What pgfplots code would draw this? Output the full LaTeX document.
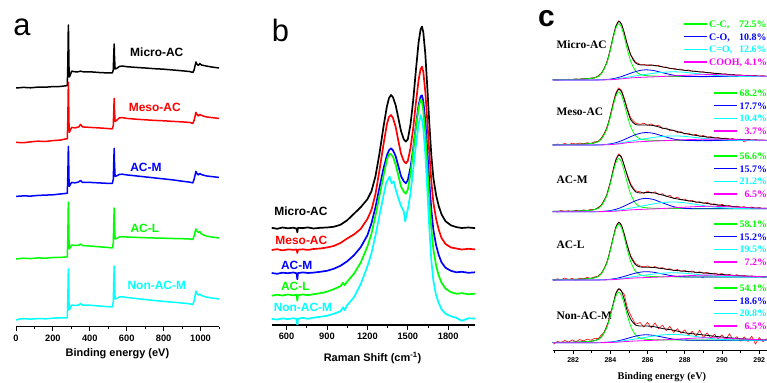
\documentclass[border=0pt]{standalone}
\usepackage{pgfplots}
\usepackage{pgfplotstable}
\pgfplotsset{compat=1.18}
\usepackage{fontspec}
\setmainfont{Liberation Serif}
\setsansfont{Liberation Sans}
\definecolor{cR}{RGB}{255,0,0}
\definecolor{cB}{RGB}{0,0,255}
\definecolor{cG}{RGB}{0,255,0}
\definecolor{cC}{RGB}{0,255,255}
\definecolor{cM}{RGB}{255,0,255}

% ---------- panel c: fitted components (heights above each sub-plot baseline) ----------
\pgfplotstableread{
x cc co cdo cooh env
280.9 0.29 0 0 0 0.29
281.5 0.42 0 0 0 0.42
282.2 0.71 0 0.01 0 0.72
282.8 1.29 0.01 0.02 0 1.32
283.2 2.46 0.09 0.09 0.04 2.56
283.5 5.84 0.21 0.17 0.07 6.08
283.8 16.59 0.53 0.36 0.18 17.12
284.0 29.96 0.93 0.58 0.32 30.83
284.15 41.82 1.36 0.80 0.46 43.06
284.3 52.02 1.90 1.07 0.64 53.74
284.45 56.38 2.63 1.43 0.89 58.69
284.6 52.55 3.49 1.85 1.17 55.59
284.75 42.80 4.44 2.30 1.45 46.68
284.9 31.36 5.47 2.77 1.74 36.19
285.1 18.44 6.85 3.38 2.07 24.63
285.35 9.17 8.39 4.10 2.37 17.10
285.6 5.61 9.57 4.81 2.61 15.04
285.9 4.38 10.20 5.64 2.84 14.97
286.3 3.90 9.58 6.69 3.13 14.69
286.8 3.70 7.33 7.72 3.53 13.15
287.4 3.61 4.77 8.18 4.07 11.06
288.0 3.58 3.64 7.67 4.65 9.67
288.8 3.55 3.38 6.08 5.25 8.18
289.6 3.57 3.43 4.63 5.39 6.73
290.5 3.57 3.47 3.78 4.91 5.32
291.4 3.58 3.50 3.55 4.24 4.37
292.4 3.56 3.50 3.50 3.73 3.79
}\tMicro
\pgfplotstableread{
x cc co cdo cooh env
280.9 0.28 0 0 0 0.28
281.5 0.40 0 0 0 0.40
282.2 0.67 0 0 0 0.67
282.8 1.21 0.01 0.02 0 1.24
283.2 2.32 0.11 0.10 0.05 2.43
283.5 5.50 0.26 0.19 0.09 5.77
283.8 15.60 0.65 0.41 0.23 16.20
284.0 28.18 1.15 0.67 0.41 29.18
284.15 39.35 1.67 0.93 0.59 40.77
284.3 48.96 2.34 1.25 0.82 50.94
284.45 53.13 3.23 1.68 1.14 55.79
284.6 49.64 4.28 2.19 1.50 53.14
284.75 40.61 5.45 2.71 1.86 45.08
284.9 29.98 6.71 3.26 2.23 35.55
285.1 17.98 8.39 3.96 2.64 25.14
285.35 9.40 10.27 4.76 3.01 20.50
285.6 6.14 11.70 5.53 3.31 20.00
285.9 5.04 12.47 6.41 3.58 20.00
286.3 4.66 11.75 7.51 3.89 19.50
286.8 4.53 9.05 8.60 4.28 17.00
287.4 4.50 5.99 9.09 4.76 14.50
288.0 4.51 4.65 8.61 5.25 11.50
288.8 4.50 4.35 7.04 5.74 9.00
289.6 4.54 4.41 5.61 5.88 7.20
290.5 4.55 4.46 4.77 5.54 5.94
291.4 4.57 4.50 4.55 5.05 5.17
292.4 4.56 4.50 4.50 4.67 4.73
}\tMeso
\pgfplotstableread{
x cc co cdo cooh env
280.9 0.28 0 0 0 0.28
281.5 0.40 0 0 0 0.40
282.2 0.67 0 0.01 0 0.68
282.8 1.22 0.01 0.03 0 1.26
283.2 2.32 0.10 0.10 0.03 2.46
283.5 5.52 0.26 0.20 0.06 5.86
283.8 15.67 0.67 0.40 0.15 16.44
284.0 28.31 1.17 0.64 0.27 29.58
284.15 39.52 1.71 0.87 0.40 41.33
284.3 49.16 2.41 1.15 0.55 51.65
284.45 53.25 3.31 1.53 0.76 56.60
284.6 49.61 4.40 1.96 1.01 54.01
284.75 40.36 5.63 2.43 1.25 45.98
284.9 29.51 6.97 2.94 1.50 36.51
285.1 17.26 8.80 3.63 1.79 26.26
285.35 8.47 10.90 4.48 2.05 19.96
285.6 5.08 12.50 5.36 2.27 18.73
285.9 3.90 13.31 6.43 2.49 19.20
286.3 3.44 12.31 7.80 2.79 18.96
286.8 3.23 8.88 9.16 3.22 16.66
287.4 3.13 5.04 9.71 3.83 13.52
288.0 3.10 3.34 8.95 4.53 11.46
288.8 3.06 2.91 6.69 5.24 9.26
289.6 3.07 2.94 4.61 5.39 7.19
290.5 3.06 2.97 3.41 4.78 5.31
291.4 3.07 3.00 3.07 3.92 4.06
292.4 3.06 3.00 3.01 3.29 3.36
}\tACM
\pgfplotstableread{
x cc co cdo cooh env
280.9 0.29 0 0 0 0.29
281.5 0.42 0 0 0 0.42
282.2 0.70 0 0 0 0.70
282.8 1.28 0.01 0.02 0 1.31
283.2 2.43 0.07 0.08 0.03 2.52
283.5 5.78 0.17 0.15 0.06 5.98
283.8 16.41 0.43 0.31 0.15 16.85
284.0 29.64 0.76 0.51 0.27 30.37
284.15 41.38 1.11 0.70 0.39 42.41
284.3 51.47 1.56 0.93 0.55 52.89
284.45 55.75 2.15 1.25 0.76 57.66
284.6 51.92 2.85 1.62 1.00 54.42
284.75 42.22 3.63 2.00 1.25 45.41
284.9 30.84 4.47 2.42 1.50 34.82
285.1 18.00 5.59 2.95 1.78 23.10
285.35 8.78 6.85 3.59 2.04 15.32
285.6 5.22 7.80 4.22 2.25 13.01
285.9 3.97 8.31 4.96 2.46 12.77
286.3 3.48 7.83 5.89 2.72 12.54
286.8 3.26 6.03 6.82 3.10 11.38
287.4 3.15 3.99 7.22 3.61 9.78
288.0 3.11 3.10 6.76 4.18 8.69
288.8 3.07 2.90 5.33 4.77 7.43
289.6 3.08 2.94 4.02 4.90 6.12
290.5 3.07 2.97 3.25 4.41 4.79
291.4 3.08 3.00 3.05 3.74 3.87
292.4 3.06 3.00 3.00 3.23 3.29
}\tACL
\pgfplotstableread{
x cc co cdo cooh env
280.9 0.27 0 0 0 0.27
281.5 0.38 0 0 0 0.38
282.2 0.64 0 0.01 0 0.65
282.8 1.16 0.01 0.03 0 1.20
283.2 2.20 0.07 0.09 0.03 2.30
283.5 5.25 0.16 0.17 0.05 5.48
283.8 14.90 0.41 0.35 0.13 15.41
284.0 26.93 0.72 0.54 0.23 27.73
284.15 37.60 1.05 0.74 0.34 38.74
284.3 46.75 1.47 0.97 0.46 49.50
284.45 50.63 2.03 1.29 0.64 54.00
284.6 47.13 2.69 1.66 0.85 51.50
284.75 38.30 3.43 2.06 1.05 43.00
284.9 27.93 4.23 2.49 1.26 32.23
285.1 16.23 5.30 3.07 1.50 23.20
285.35 7.83 6.52 3.79 1.72 17.70
285.6 4.59 7.44 4.54 1.91 16.70
285.9 3.44 7.93 5.46 2.11 16.70
286.3 2.98 7.42 6.63 2.38 16.20
286.8 2.77 5.60 7.79 2.79 14.20
287.4 2.66 3.54 8.25 3.38 12.50
288.0 2.62 2.63 7.61 4.06 9.87
288.8 2.58 2.42 5.66 4.76 8.22
289.6 2.58 2.45 3.88 4.90 6.46
290.5 2.57 2.48 2.86 4.29 4.76
291.4 2.57 2.50 2.56 3.42 3.55
292.4 2.56 2.50 2.51 2.79 2.86
}\tNon
% ---------- panel c: measured spectra ----------
\pgfplotstableread{
x mi me am al no
280.95 0.6 -0.5 0.8 -1.0 -1.5
281.15 -0.2 1.0 -0.3 1.3 1.2
281.35 0.7 0.2 1.2 0.2 0.0
281.55 0.1 1.5 0.3 2.0 2.3
281.75 0.9 0.4 1.0 0.5 0.6
281.95 0.3 1.8 -0.1 1.6 2.8
282.15 1.2 0.9 1.3 -0.3 1.0
282.35 0.5 2.0 0.6 1.9 3.2
282.55 1.4 1.1 1.8 1.0 1.8
282.75 0.9 2.3 1.0 2.6 3.6
282.95 2.1 1.5 2.4 1.6 2.5
283.15 2.0 3.2 1.9 3.1 4.4
283.35 4.3 3.6 4.5 4.0 4.1
283.5 6.5 6.8 6.2 6.6 7.5
283.65 10.5 10.9 11.3 10.8 9.8
283.8 17.5 17.3 16.0 17.4 16.8
283.9 23.5 22.8 23.6 23.2 21.2
284.0 31.2 30.5 29.0 30.9 29.6
284.15 43.5 42.3 42.4 42.0 37.9
284.3 54.2 52.5 52.8 53.5 49.5
284.45 59.3 57.2 57.8 58.1 53.5
284.6 56.2 54.6 55.3 55.0 51.4
284.75 47.3 46.8 45.2 45.9 48.2
284.9 36.6 37.4 37.8 35.6 35.7
285.1 25.2 26.8 27.6 23.9 27.1
285.35 17.8 21.9 20.8 16.4 18.5
285.6 15.6 20.6 19.9 14.0 20.2
285.8 15.6 21.8 18.2 13.2 15.6
286.0 14.2 19.6 20.6 14.1 20.4
286.2 15.3 21.1 18.5 12.3 14.8
286.4 14.1 18.9 19.9 13.5 19.7
286.6 14.5 19.8 16.9 11.7 13.9
286.8 12.8 16.2 18.0 12.4 17.6
287.0 13.0 17.1 15.2 10.6 12.1
287.2 11.4 14.3 16.3 11.3 16.3
287.4 11.8 14.9 13.1 9.4 10.2
287.6 10.6 12.4 14.6 10.5 14.1
287.8 10.9 13.3 11.8 8.6 9.4
288.0 9.5 11.0 12.7 9.7 12.8
288.2 10.1 11.9 10.6 8.0 7.6
288.4 8.7 9.8 11.5 9.1 11.3
288.6 9.0 10.6 9.2 7.2 6.4
288.8 7.8 8.6 10.1 8.3 12.6
289.0 8.3 9.5 8.3 6.6 5.2
289.2 7.0 7.6 9.6 7.8 9.8
289.4 7.4 8.4 7.2 6.0 4.6
289.6 6.3 6.8 7.9 6.9 8.5
289.8 6.8 7.6 6.1 5.4 3.9
290.0 5.7 6.2 7.4 6.5 7.9
290.2 6.2 7.0 5.5 4.6 3.1
290.4 5.0 5.5 6.3 5.6 9.0
290.6 5.6 6.4 4.6 4.2 2.6
290.8 4.6 5.0 5.7 5.3 6.1
291.0 5.2 5.9 4.3 3.6 1.5
291.2 4.2 3.0 5.1 4.5 5.8
291.4 4.8 5.6 3.5 3.4 1.2
291.6 3.9 4.6 4.8 4.2 6.5
291.8 4.4 5.3 3.2 2.9 -1.4
292.0 3.5 4.2 4.1 3.9 5.2
292.2 4.2 5.1 2.8 2.7 1.0
292.4 3.6 4.4 3.6 3.5 4.0
}\tRaw

\begin{document}
\begin{tikzpicture}
\path[use as bounding box] (0,0) rectangle (767bp,383bp);
\pgfplotsset{
  base/.style={scale only axis, anchor=south west},
  ov/.style={base, hide axis},
  pa/.style={width=203bp, height=326bp, xmin=0, xmax=1100, at={(16bp,56.3bp)}},
  pb/.style={width=203.5bp, height=325bp, xmin=490, xmax=2000, at={(271.7bp,58bp)}},
  pc/.style={width=214.3bp, height=350bp, xmin=280.9, xmax=292.42, at={(552.7bp,33bp)}},
  fr/.style={base, axis x line*=bottom, hide y axis, ymin=0, clip=false,
    tick align=outside, major tick length=4.5bp, minor tick length=2.7bp,
    tick style={black, line width=0.9bp}, axis line style={line width=1.1bp},
    /pgf/number format/assume math mode=true, /pgf/number format/1000 sep={}},
  la/.style={line width=1.5bp, line join=round},
  lb/.style={line width=1.7bp, line join=round},
  lc/.style={line width=0.8bp, line join=round},
  lgc/.style={legend image code/.code={\draw[##1, line width=1.4bp] (0bp,1bp) -- (23bp,1bp); \path (25bp,0bp);},
    legend style={draw=none, fill=none, anchor=north east, inner sep=0pt, outer sep=0pt,
      row sep=3.7bp, column sep=0pt,
      nodes={inner sep=0pt, text height=7bp, text depth=2bp, font=\rmfamily\bfseries\fontsize{10}{10}\selectfont}}},
}
\tikzset{lab/.style={font=\sffamily\bfseries\fontsize{12}{12}\selectfont}}

% ================= panel a =================
\begin{axis}[fr, pa, ymax=326, xtick={0,200,400,600,800,1000}, minor xtick={100,300,500,700,900,1100},
  xticklabel style={font=\sffamily\bfseries\fontsize{9.3}{10}\selectfont}]
\node[lab, text=black] at (axis cs:763,274.7) {Micro-AC};
\node[lab, text=cR] at (axis cs:752,219.7) {Meso-AC};
\node[lab, text=cB] at (axis cs:704,159.7) {AC-M};
\node[lab, text=cG] at (axis cs:698,98.7) {AC-L};
\node[lab, text=cC] at (axis cs:763,41.7) {Non-AC-M};
\node[font=\sffamily\bfseries\fontsize{11}{11}\selectfont] at (axis cs:549.5,-26.5) {Binding energy (eV)};
\end{axis}
\begin{axis}[ov, pa, ymin=-238.7, ymax=87.3]
\addplot[la, black] coordinates {(0,0) (40,0.6) (80,0.2) (120,0.9) (160,0.8) (200,1.4) (240,1.5) (270,2.2) (278,2.5) (281,25) (283,55) (284,63) (285,50) (287,22) (289,11) (292,12) (296,14) (302,17) (310,16.5) (330,16) (350,16.8) (370,16) (400,16.2) (450,15.5) (500,15) (522,15) (527,18) (530,35) (532,44) (534,30) (537,19) (545,19.5) (560,21.5) (575,22) (600,21.3) (650,20.6) (700,20) (750,19.3) (800,18.8) (850,18) (900,17.2) (940,16.5) (958,15.5) (965,18) (970,22) (975,26) (980,24) (988,22.5) (996,24.5) (1005,23) (1030,22) (1060,21) (1100,20)};
\end{axis}
\begin{axis}[ov, pa, ymin=-184.3, ymax=141.7]
\addplot[la, cR] coordinates {(0,0) (40,-0.3) (80,0.6) (120,1.2) (160,0.9) (200,1.8) (240,2.3) (270,3.5) (278,3.5) (281,25) (283,52) (284,60) (285,46) (287,20) (289,10) (292,11) (296,13) (302,15) (320,14.5) (340,15.5) (350,18) (360,15.5) (400,15) (450,14.5) (500,13.8) (522,13.5) (527,17) (530,33) (532,44) (534,31) (537,21) (545,22) (560,24.5) (575,24.8) (600,24) (650,23.2) (700,22.6) (750,22) (800,21.6) (850,21) (900,20.5) (940,20) (958,19) (965,22) (970,26) (975,30) (980,28) (988,26.5) (996,28) (1005,27) (1030,25.5) (1060,24.8) (1100,24)};
\end{axis}
\begin{axis}[ov, pa, ymin=-130.3, ymax=195.7]
\addplot[la, cB] coordinates {(0,0) (40,0.5) (80,0.3) (120,1.0) (160,1.3) (200,1.6) (240,2.4) (270,3) (278,3) (281,22) (283,44) (284,50) (285,40) (287,18) (289,10) (292,11) (296,12.5) (302,14) (320,13.5) (340,14.5) (350,16) (360,14) (400,14) (450,13.5) (500,13) (522,13) (527,17) (530,36) (532,48) (534,32) (537,20) (545,20.5) (560,22) (575,22.2) (600,21.5) (650,20.5) (700,19.5) (750,18.5) (800,17.5) (850,16.5) (900,15.2) (940,14.3) (958,13.5) (965,17) (970,21) (975,25) (980,23) (988,21.5) (996,23) (1005,21.8) (1030,20.5) (1060,19.8) (1100,19)};
\end{axis}
\begin{axis}[ov, pa, ymin=-67.7, ymax=258.3]
\addplot[la, cG] coordinates {(0,0) (40,0.8) (80,0.4) (120,1.1) (160,0.8) (200,1.5) (240,1.6) (270,2) (278,2.2) (281,24) (283,50) (284,57) (285,45) (287,20) (289,10) (292,11) (296,12.5) (302,14) (320,13.5) (340,13.8) (350,15) (360,13.5) (400,13) (450,12.2) (500,11.5) (522,11) (527,16) (530,38) (532,51) (534,34) (537,20) (545,20.5) (560,22) (575,22.3) (600,22) (650,21.6) (700,21.3) (750,21) (800,20.8) (850,20.5) (900,20.3) (940,20) (958,19.5) (965,23) (970,27) (975,30) (980,28) (988,26.5) (996,27.5) (1005,25) (1030,23) (1060,22) (1100,21)};
\end{axis}
\begin{axis}[ov, pa, ymin=-6.7, ymax=319.3]
\addplot[la, cC] coordinates {(0,0) (20,1.0) (40,1.3) (80,0.9) (120,1.4) (160,1.2) (200,1.8) (240,2.2) (270,2) (278,2.2) (281,22) (283,45) (284,51) (285,41) (287,19) (289,10) (292,11) (296,13) (302,15) (320,14.5) (340,15) (350,16.5) (360,14.8) (400,14.8) (450,14) (500,13.3) (522,13) (527,18) (530,40) (532,54) (534,36) (537,21) (545,21.5) (560,23) (575,23.2) (600,22.5) (650,21.5) (700,20.5) (750,19.5) (800,18.6) (850,17.8) (900,17) (940,16.2) (958,15.5) (965,19) (970,24) (975,29) (980,26.5) (988,25) (996,26) (1005,24.5) (1030,23) (1060,22) (1100,21)};
\end{axis}
\node[font=\sffamily\fontsize{31}{31}\selectfont, anchor=base] at (22bp,347bp) {a};

% ================= panel b =================
\begin{axis}[fr, pb, ymax=325, xtick={600,900,1200,1500,1800}, minor xtick={750,1050,1350,1650,1950},
  xticklabel style={font=\sffamily\bfseries\fontsize{9.3}{10}\selectfont}]
\node[lab, text=black] at (axis cs:707,113.3) {Micro-AC};
\node[lab, text=cR] at (axis cs:710,85) {Meso-AC};
\node[lab, text=cB] at (axis cs:675,60) {AC-M};
\node[lab, text=cG] at (axis cs:665,38.3) {AC-L};
\node[lab, text=cC] at (axis cs:722,17.5) {Non-AC-M};
\node[font=\sffamily\bfseries\fontsize{11}{11}\selectfont] at (axis cs:1238,-33) {Raman Shift (cm\textsuperscript{-1})};
\end{axis}
\begin{axis}[ov, pb, ymin=-96.7, ymax=228.3]
\addplot[lb, black] coordinates {(490,0.5) (530,-0.5) (570,0.8) (610,0) (650,0.6) (675,-0.3) (680,-4) (685,0.5) (720,0.2) (760,0.9) (800,-0.2) (850,0.5) (900,0.8) (950,1.5) (1000,3.5) (1050,8) (1100,14.5) (1150,21) (1200,29) (1230,37) (1260,52) (1290,75) (1320,102) (1345,122) (1360,130) (1375,133.3) (1390,131) (1410,123) (1430,110) (1450,97) (1470,89) (1485,86.7) (1500,89) (1520,104) (1540,128) (1560,158) (1580,186) (1595,199) (1605,201.7) (1615,196) (1630,174) (1645,140) (1660,104) (1675,72) (1690,50) (1710,33) (1730,22) (1750,14) (1780,7) (1820,3) (1860,1.2) (1900,0.3) (1950,0.8) (2000,0.2)};
\end{axis}
\begin{axis}[ov, pb, ymin=-75, ymax=250]
\addplot[lb, cR] coordinates {(490,0) (530,0.8) (570,-0.4) (610,0.6) (650,0.2) (675,0.5) (680,-3) (685,0.3) (720,0.7) (760,0.1) (800,1.0) (850,1.5) (900,2.5) (950,4) (1000,7) (1050,11.5) (1100,15.5) (1150,21) (1200,31) (1230,40) (1260,56) (1290,80) (1320,106) (1345,126) (1360,133) (1375,135) (1390,132) (1410,123) (1430,109) (1450,96) (1470,89) (1485,86.7) (1500,89) (1520,102) (1540,122) (1560,147) (1580,170) (1595,181) (1605,183.3) (1615,178) (1630,158) (1645,128) (1660,96) (1675,68) (1690,47) (1710,31) (1730,20) (1750,12) (1780,6) (1820,2.5) (1860,1.5) (1900,0.5) (1950,1.2) (2000,0.6)};
\end{axis}
\begin{axis}[ov, pb, ymin=-51.7, ymax=273.3]
\addplot[lb, cB] coordinates {(490,0.3) (530,-0.5) (570,0.6) (610,0.1) (650,0.8) (675,0) (680,-6) (685,0.2) (720,0.9) (760,0.3) (800,0.7) (850,1.5) (900,2.5) (950,4.5) (1000,7.5) (1050,12) (1100,18) (1150,26) (1200,38) (1230,50) (1260,66) (1290,86) (1320,105) (1345,118) (1360,123) (1375,125) (1390,123) (1410,117) (1430,107) (1450,97) (1470,92) (1485,90) (1500,93) (1520,106) (1540,125) (1560,148) (1580,168) (1595,177) (1605,178) (1615,172) (1630,152) (1645,122) (1660,90) (1675,63) (1690,43) (1710,28) (1730,18) (1750,11) (1780,5.5) (1820,2.5) (1860,1) (1900,1.5) (1950,0.5) (2000,1)};
\end{axis}
\begin{axis}[ov, pb, ymin=-29.3, ymax=295.7]
\addplot[lb, cG] coordinates {(490,0) (530,1.0) (570,0.2) (610,1.2) (650,0.4) (675,1.0) (680,-5) (685,0.5) (720,1.2) (760,0.6) (800,1.5) (850,2.5) (900,4) (950,6.5) (1000,9.5) (1020,13) (1030,10.5) (1050,14) (1100,22) (1150,33) (1200,49) (1230,62) (1260,80) (1290,100) (1320,120) (1345,136) (1360,141) (1370,142) (1390,139) (1410,131) (1430,120) (1450,109) (1470,104) (1485,102) (1500,106) (1520,122) (1540,145) (1560,168) (1580,188) (1595,196) (1605,194) (1615,185) (1630,162) (1645,128) (1660,94) (1675,66) (1690,46) (1710,30) (1730,20) (1750,13) (1780,7) (1820,3.5) (1860,2) (1900,2.5) (1950,1.5) (2000,2)};
\end{axis}
\begin{axis}[ov, pb, ymin=-5.7, ymax=319.3]
\addplot[lb, cC] coordinates {(490,0.5) (530,-0.3) (570,0.9) (610,0.2) (650,1.1) (675,0.4) (680,-7) (685,0.6) (720,1.4) (760,0.5) (800,1.6) (850,2.5) (900,3.5) (950,5.5) (1000,8) (1020,12) (1030,9) (1050,14) (1100,22) (1150,35) (1200,53) (1230,66) (1260,84) (1290,104) (1320,124) (1340,137) (1355,140) (1365,142.7) (1380,136) (1395,138) (1410,130) (1430,121) (1450,113) (1470,108) (1480,98) (1490,104) (1500,110) (1520,126) (1540,150) (1560,174) (1580,195) (1595,204) (1605,200) (1615,190) (1630,165) (1645,128) (1660,90) (1675,58) (1690,38) (1710,24) (1730,16) (1750,10) (1780,5.5) (1820,3) (1860,1.5) (1900,-1.5) (1950,1) (2000,0.8)};
\end{axis}
\node[font=\sffamily\fontsize{31}{31}\selectfont, anchor=base] at (280.5bp,341bp) {b};

% ================= panel c =================
\begin{axis}[fr, pc, ymax=350, xtick={282,284,286,288,290,292}, minor xtick={281,283,285,287,289,291},
  axis line style={line width=1bp}, major tick length=4bp, minor tick length=2.5bp,
  xticklabel style={font=\sffamily\bfseries\fontsize{7}{8}\selectfont}]
\node[font=\rmfamily\bfseries\fontsize{11.5}{12}\selectfont, anchor=west] at (axis cs:280.92,305) {Micro-AC};
\node[font=\rmfamily\bfseries\fontsize{11.5}{12}\selectfont, anchor=west] at (axis cs:280.92,238) {Meso-AC};
\node[font=\rmfamily\bfseries\fontsize{11.5}{12}\selectfont, anchor=west] at (axis cs:280.92,170) {AC-M};
\node[font=\rmfamily\bfseries\fontsize{11.5}{12}\selectfont, anchor=west] at (axis cs:280.92,105) {AC-L};
\node[font=\rmfamily\bfseries\fontsize{11.5}{12}\selectfont, anchor=west] at (axis cs:280.92,34) {Non-AC-M};
\node[font=\rmfamily\bfseries\fontsize{10.3}{11}\selectfont] at (axis cs:286.77,-27) {Binding energy (eV)};
\end{axis}

\begin{axis}[ov, pc, ymin=-270, ymax=80, lgc, legend style={at={(1,0.9417)}}, legend cell align=left]
\addplot[lc, cR, line width=0.6bp, forget plot] table[x=x, y=mi] {\tRaw};
\addplot[lc, black, smooth, forget plot] table[x=x, y=env] {\tMicro};
\addplot[lc, cG, smooth] table[x=x, y=cc] {\tMicro};
\addplot[lc, cB, smooth] table[x=x, y=co] {\tMicro};
\addplot[lc, cC, smooth] table[x=x, y=cdo] {\tMicro};
\addplot[lc, cM, smooth] table[x=x, y=cooh] {\tMicro};
\addlegendentry{\textcolor{cG}{\makebox[30bp][l]{C-C,}72.5\%}}
\addlegendentry{\textcolor{cB}{\makebox[30bp][l]{C-O,}10.8\%}}
\addlegendentry{\textcolor{cC}{\makebox[30bp][l]{C=O,}12.6\%}}
\addlegendentry{\textcolor{cM}{COOH, 4.1\%}}
\end{axis}

\begin{axis}[ov, pc, ymin=-205, ymax=145, lgc, legend style={at={(1,0.7446)}}, legend cell align=right]
\addplot[lc, cR, line width=0.6bp, forget plot] table[x=x, y=me] {\tRaw};
\addplot[lc, black, smooth, forget plot] table[x=x, y=env] {\tMeso};
\addplot[lc, cG, smooth] table[x=x, y=cc] {\tMeso};
\addplot[lc, cB, smooth] table[x=x, y=co] {\tMeso};
\addplot[lc, cC, smooth] table[x=x, y=cdo] {\tMeso};
\addplot[lc, cM, smooth] table[x=x, y=cooh] {\tMeso};
\addlegendentry{\textcolor{cG}{68.2\%}}
\addlegendentry{\textcolor{cB}{17.7\%}}
\addlegendentry{\textcolor{cC}{10.4\%}}
\addlegendentry{\textcolor{cM}{3.7\%}}
\end{axis}

\begin{axis}[ov, pc, ymin=-138.3, ymax=211.7, lgc, legend style={at={(1,0.5646)}}, legend cell align=right]
\addplot[lc, cR, line width=0.6bp, forget plot] table[x=x, y=am] {\tRaw};
\addplot[lc, black, smooth, forget plot] table[x=x, y=env] {\tACM};
\addplot[lc, cG, smooth] table[x=x, y=cc] {\tACM};
\addplot[lc, cB, smooth] table[x=x, y=co] {\tACM};
\addplot[lc, cC, smooth] table[x=x, y=cdo] {\tACM};
\addplot[lc, cM, smooth] table[x=x, y=cooh] {\tACM};
\addlegendentry{\textcolor{cG}{56.6\%}}
\addlegendentry{\textcolor{cB}{15.7\%}}
\addlegendentry{\textcolor{cC}{21.2\%}}
\addlegendentry{\textcolor{cM}{6.5\%}}
\end{axis}

\begin{axis}[ov, pc, ymin=-70, ymax=280, lgc, legend style={at={(1,0.3703)}}, legend cell align=right]
\addplot[lc, cR, line width=0.6bp, forget plot] table[x=x, y=al] {\tRaw};
\addplot[lc, black, smooth, forget plot] table[x=x, y=env] {\tACL};
\addplot[lc, cG, smooth] table[x=x, y=cc] {\tACL};
\addplot[lc, cB, smooth] table[x=x, y=co] {\tACL};
\addplot[lc, cC, smooth] table[x=x, y=cdo] {\tACL};
\addplot[lc, cM, smooth] table[x=x, y=cooh] {\tACL};
\addlegendentry{\textcolor{cG}{58.1\%}}
\addlegendentry{\textcolor{cB}{15.2\%}}
\addlegendentry{\textcolor{cC}{19.5\%}}
\addlegendentry{\textcolor{cM}{7.2\%}}
\end{axis}

\begin{axis}[ov, pc, ymin=-7.3, ymax=342.7, lgc, legend style={at={(1,0.1874)}}, legend cell align=right]
\addplot[lc, cR, line width=0.6bp, forget plot] table[x=x, y=no] {\tRaw};
\addplot[lc, black, smooth, forget plot] table[x=x, y=env] {\tNon};
\addplot[lc, cG, smooth] table[x=x, y=cc] {\tNon};
\addplot[lc, cB, smooth] table[x=x, y=co] {\tNon};
\addplot[lc, cC, smooth] table[x=x, y=cdo] {\tNon};
\addplot[lc, cM, smooth] table[x=x, y=cooh] {\tNon};
\addlegendentry{\textcolor{cG}{54.1\%}}
\addlegendentry{\textcolor{cB}{18.6\%}}
\addlegendentry{\textcolor{cC}{20.8\%}}
\addlegendentry{\textcolor{cM}{6.5\%}}
\end{axis}
\node[font=\sffamily\bfseries\fontsize{30}{30}\selectfont, anchor=base] at (546.5bp,356bp) {c};
\end{tikzpicture}
\end{document}
